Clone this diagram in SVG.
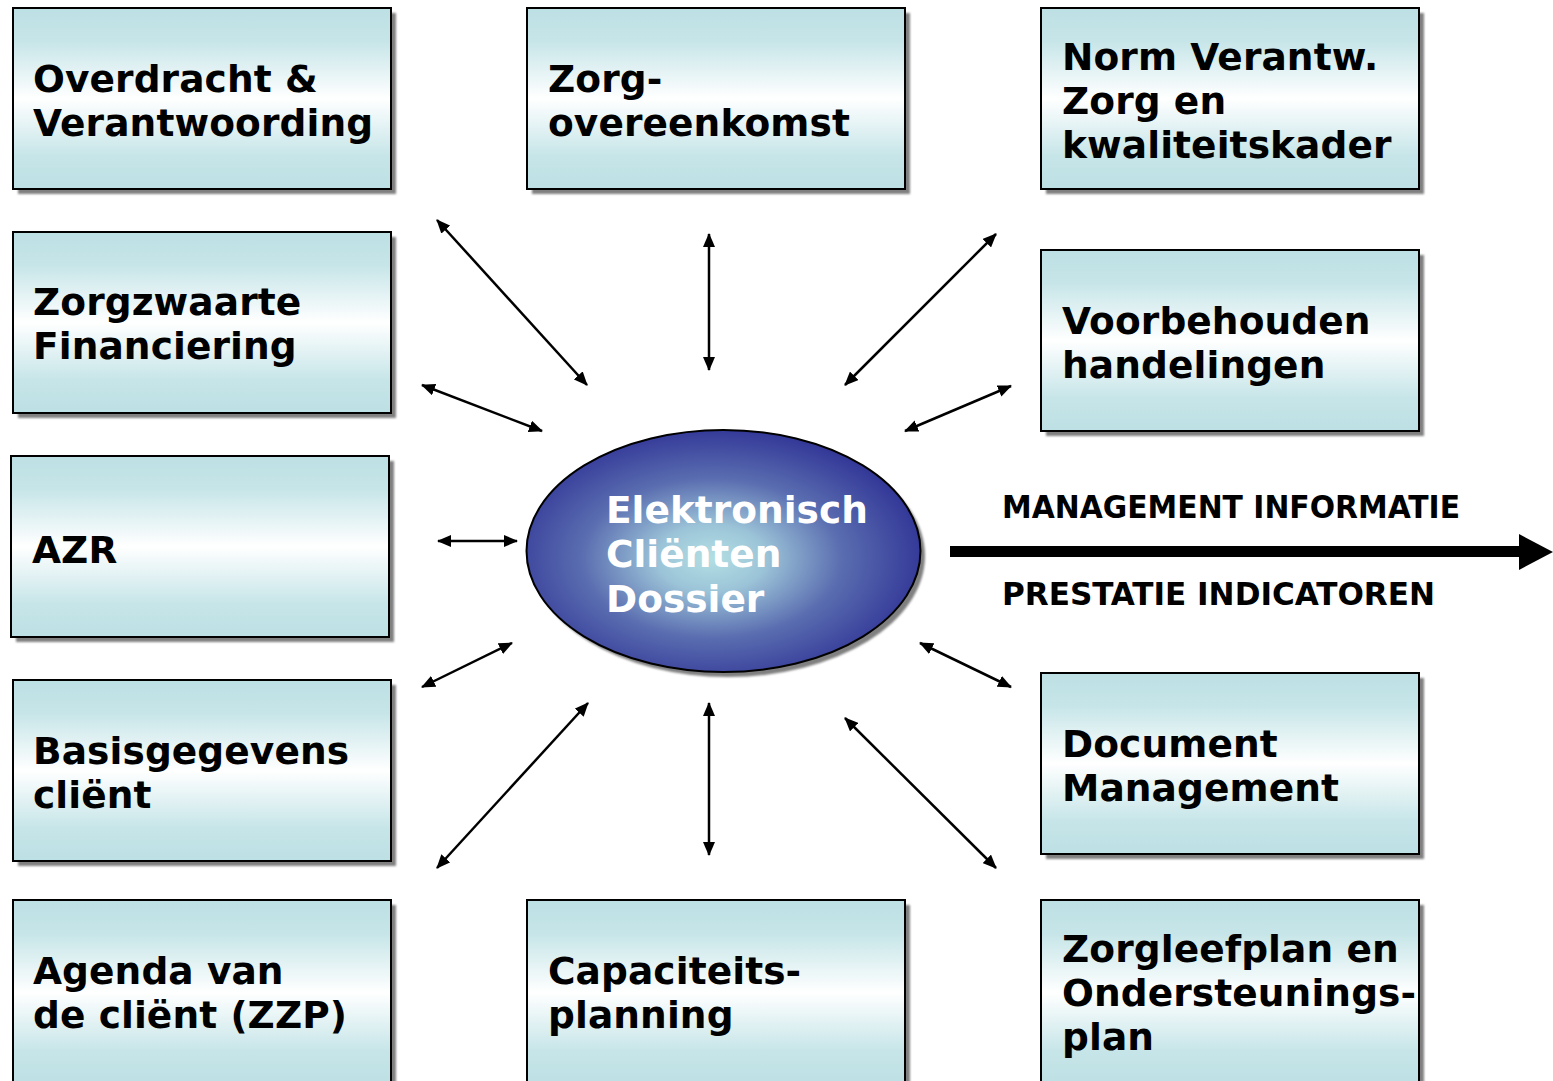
<svg xmlns="http://www.w3.org/2000/svg" width="1553" height="1081" viewBox="0 0 1553 1081">
<defs>
<linearGradient id="boxg" x1="0" y1="0" x2="0" y2="1">
<stop offset="0" stop-color="#bde0e4"/>
<stop offset="0.18" stop-color="#c6e5e8"/>
<stop offset="0.5" stop-color="#ffffff"/>
<stop offset="0.82" stop-color="#c6e5e8"/>
<stop offset="1" stop-color="#bde0e4"/>
</linearGradient>
<radialGradient id="ellg" cx="0.47" cy="0.53" r="0.55">
<stop offset="0" stop-color="#b3dfe3"/>
<stop offset="0.25" stop-color="#9cc4d8"/>
<stop offset="0.6" stop-color="#5a6db0"/>
<stop offset="1" stop-color="#313596"/>
</radialGradient>
<filter id="blur" x="-5%" y="-5%" width="110%" height="110%">
<feGaussianBlur stdDeviation="1.2"/>
</filter>
<marker id="ah" viewBox="0 0 14 12" refX="13" refY="6" markerWidth="14" markerHeight="12" markerUnits="userSpaceOnUse" orient="auto-start-reverse">
<path d="M0,0 L14,6 L0,12 Z" fill="#000"/>
</marker>
</defs>
<style>
.shadow{fill:#808080;filter:url(#blur)}
.box{fill:url(#boxg);stroke:#000;stroke-width:2}
.t{font-family:"DejaVu Sans","Liberation Sans",sans-serif;font-weight:bold;font-size:37.5px;letter-spacing:0.1px;fill:#000}
.et{font-family:"DejaVu Sans","Liberation Sans",sans-serif;font-weight:bold;font-size:37.5px;fill:#fff}
.mt{font-family:"DejaVu Sans Condensed","DejaVu Sans","Liberation Sans",sans-serif;font-stretch:condensed;font-weight:bold;font-size:32px;fill:#000}
.c{stroke:#000;stroke-width:2.5;fill:none;marker-start:url(#ah);marker-end:url(#ah)}
</style>
<rect width="1553" height="1081" fill="#fff"/>

<g id="connectors">
<line class="c" x1="437" y1="220" x2="587" y2="385"/>
<line class="c" x1="709" y1="234" x2="709" y2="370"/>
<line class="c" x1="996" y1="234" x2="845" y2="385"/>
<line class="c" x1="422" y1="385" x2="542" y2="431"/>
<line class="c" x1="1011" y1="386" x2="905" y2="431"/>
<line class="c" x1="438" y1="541" x2="517" y2="541"/>
<line class="c" x1="422" y1="687" x2="512" y2="643"/>
<line class="c" x1="920" y1="643" x2="1011" y2="687"/>
<line class="c" x1="588" y1="703" x2="437" y2="868"/>
<line class="c" x1="709" y1="703" x2="709" y2="855"/>
<line class="c" x1="845" y1="718" x2="996" y2="868"/>
<line x1="950" y1="551.5" x2="1522" y2="551.5" stroke="#000" stroke-width="11"/>
<polygon points="1519,534 1553,552 1519,570" fill="#000"/>
</g>

<g id="ecd">
<ellipse cx="728" cy="556" rx="197" ry="121" class="shadow"/>
<ellipse cx="723.5" cy="551" rx="197" ry="121" fill="url(#ellg)" stroke="#000" stroke-width="2"/>
<text class="et" x="606" y="523">Elektronisch</text>
<text class="et" x="606" y="567">Cliënten</text>
<text class="et" x="606" y="612">Dossier</text>
</g>

<g id="n1">
<rect x="18" y="13" width="378" height="181" class="shadow"/>
<rect x="13" y="8" width="378" height="181" class="box"/>
<text class="t" x="33" y="92">Overdracht &amp;</text>
<text class="t" x="33" y="136">Verantwoording</text>
</g>
<g id="n2">
<rect x="532" y="13" width="378" height="181" class="shadow"/>
<rect x="527" y="8" width="378" height="181" class="box"/>
<text class="t" x="548" y="92">Zorg-</text>
<text class="t" x="548" y="136">overeenkomst</text>
</g>
<g id="n3">
<rect x="1046" y="13" width="378" height="181" class="shadow"/>
<rect x="1041" y="8" width="378" height="181" class="box"/>
<text class="t" x="1062" y="70">Norm Verantw.</text>
<text class="t" x="1062" y="114">Zorg en</text>
<text class="t" x="1062" y="158">kwaliteitskader</text>
</g>
<g id="n4">
<rect x="18" y="237" width="378" height="181" class="shadow"/>
<rect x="13" y="232" width="378" height="181" class="box"/>
<text class="t" x="33" y="315">Zorgzwaarte</text>
<text class="t" x="33" y="359">Financiering</text>
</g>
<g id="n5">
<rect x="1046" y="255" width="378" height="181" class="shadow"/>
<rect x="1041" y="250" width="378" height="181" class="box"/>
<text class="t" x="1062" y="334">Voorbehouden</text>
<text class="t" x="1062" y="378">handelingen</text>
</g>
<g id="n6">
<rect x="16" y="461" width="378" height="181" class="shadow"/>
<rect x="11" y="456" width="378" height="181" class="box"/>
<text class="t" x="32" y="563">AZR</text>
</g>
<g id="n7">
<rect x="18" y="685" width="378" height="181" class="shadow"/>
<rect x="13" y="680" width="378" height="181" class="box"/>
<text class="t" x="33" y="764">Basisgegevens</text>
<text class="t" x="33" y="808">cliënt</text>
</g>
<g id="n8">
<rect x="1046" y="678" width="378" height="181" class="shadow"/>
<rect x="1041" y="673" width="378" height="181" class="box"/>
<text class="t" x="1062" y="757">Document</text>
<text class="t" x="1062" y="801">Management</text>
</g>
<g id="n9">
<rect x="18" y="905" width="378" height="181" class="shadow"/>
<rect x="13" y="900" width="378" height="185" class="box"/>
<text class="t" x="33" y="984">Agenda van</text>
<text class="t" x="33" y="1028">de cliënt (ZZP)</text>
</g>
<g id="n10">
<rect x="532" y="905" width="378" height="181" class="shadow"/>
<rect x="527" y="900" width="378" height="185" class="box"/>
<text class="t" x="548" y="984">Capaciteits-</text>
<text class="t" x="548" y="1028">planning</text>
</g>
<g id="n11">
<rect x="1046" y="905" width="378" height="181" class="shadow"/>
<rect x="1041" y="900" width="378" height="185" class="box"/>
<text class="t" x="1062" y="962">Zorgleefplan en</text>
<text class="t" x="1062" y="1006">Ondersteunings-</text>
<text class="t" x="1062" y="1050">plan</text>
</g>

<g id="labels">
<text class="mt" x="1002" y="518" textLength="458" lengthAdjust="spacingAndGlyphs">MANAGEMENT INFORMATIE</text>
<text class="mt" x="1002" y="605" textLength="433" lengthAdjust="spacingAndGlyphs">PRESTATIE INDICATOREN</text>
</g>
</svg>
